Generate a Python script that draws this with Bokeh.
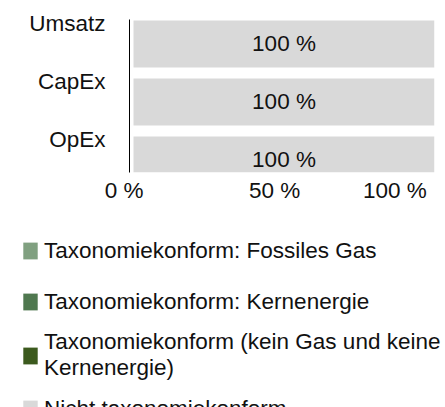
from bokeh.plotting import figure
from bokeh.layouts import column
from bokeh.models import (ColumnDataSource, Range1d, FixedTicker, LinearAxis, Legend)
from bokeh.core.properties import value
from bokeh.embed import file_html
from bokeh.resources import INLINE

# ---- data ----
categories = ["Umsatz", "CapEx", "OpEx"]
gas = [0, 0, 0]
kern = [0, 0, 0]
konform = [0, 0, 0]
nicht = [100, 100, 100]
series_keys = ["gas", "kern", "konform", "nicht"]
series_labels = [
    "Taxonomiekonform: Fossiles Gas",
    "Taxonomiekonform: Kernenergie",
    "Taxonomiekonform (kein Gas und keine\nKernenergie)",
    "Nicht taxonomiekonform",
]
series_colors = ["#80A080", "#4F784F", "#3C5A1E", "#D9D9D9"]
x_ticks = [0, 50, 100]
x_tick_labels = ["0 %", "50 %", "100 %"]

FONT = "Liberation Sans"
FS = "22.5px"
PAD = "\u00a0" * 3
TOP_H = 206

ypos = list(range(len(categories)))
source = ColumnDataSource(dict(y=ypos, gas=gas, kern=kern, konform=konform, nicht=nicht))

p = figure(width=445, height=TOP_H, output_backend="svg", toolbar_location=None,
           x_range=Range1d(-1.33, 100), y_range=Range1d(2.216, -0.422),
           x_axis_location=None, y_axis_location=None,
           min_border_left=129, min_border_right=11, min_border_top=19,
           min_border_bottom=TOP_H - 172)
p.outline_line_color = None
p.xgrid.visible = False
p.ygrid.visible = False
p.frame_align = False

renderers = p.hbar_stack(series_keys, y="y", height=0.81, source=source,
                         fill_color=series_colors, line_color=None)

# value labels on non-zero segments
lab_x, lab_y, lab_t = [], [], []
for i in range(len(categories)):
    left = 0
    for key in series_keys:
        v = source.data[key][i]
        if v > 0:
            lab_x.append(left + v / 2)
            lab_y.append(ypos[i])
            lab_t.append(f"{v:.0f} %")
        left += v
p.text(x=lab_x, y=lab_y, text=lab_t, text_align="center", text_baseline="middle",
       text_font=value(FONT), text_font_size=FS, text_color="#111111")

# x axis (labels only)
xaxis = LinearAxis(ticker=FixedTicker(ticks=x_ticks))
xaxis.major_label_overrides = {t: l + PAD for t, l in zip(x_ticks, x_tick_labels)}
xaxis.axis_line_color = None
xaxis.major_tick_line_color = None
xaxis.minor_tick_line_color = None
xaxis.major_tick_out = 0
xaxis.major_tick_in = 0
xaxis.major_label_standoff = 5
xaxis.major_label_text_font = FONT
xaxis.major_label_text_font_size = FS
xaxis.major_label_text_color = "#111111"
p.add_layout(xaxis, "below")

# y axis (category labels placed near top of each band)
p.extra_y_ranges = {"cat": Range1d(2.216 + 0.353, -0.422 + 0.353)}
yaxis = LinearAxis(y_range_name="cat", ticker=FixedTicker(ticks=ypos))
yaxis.major_label_overrides = {i: c for i, c in zip(ypos, categories)}
yaxis.axis_line_color = "#000000"
yaxis.axis_line_width = 1
yaxis.major_tick_line_color = None
yaxis.minor_tick_line_color = None
yaxis.major_tick_out = 0
yaxis.major_tick_in = 0
yaxis.major_label_standoff = 24
yaxis.major_label_text_font = FONT
yaxis.major_label_text_font_size = FS
yaxis.major_label_text_color = "#111111"
p.add_layout(yaxis, "left")

# ---- legend panel (separate figure, same series; bars kept out of its view) ----
lg = figure(width=445, height=407 - TOP_H, output_backend="svg", toolbar_location=None,
            x_range=Range1d(0, 100), y_range=Range1d(10, 11),
            x_axis_location=None, y_axis_location=None,
            min_border=0)
lg.outline_line_color = None
lg.xgrid.visible = False
lg.ygrid.visible = False
lg.frame_align = False
lg_renderers = lg.hbar_stack(series_keys, y="y", height=0.81, source=source,
                             fill_color=series_colors, line_color=None)

legend = Legend(items=[(lbl, [r]) for lbl, r in zip(series_labels, lg_renderers)],
                location="top_left", orientation="vertical",
                border_line_color=None, background_fill_alpha=0,
                padding=0, margin=21, spacing=4,
                glyph_width=18, glyph_height=21, label_height=47,
                label_standoff=5,
                label_text_font=FONT, label_text_font_size=FS,
                label_text_color="#111111")
lg.add_layout(legend, "center")

layout = column(p, lg, spacing=0)
open("out.html", "w").write(file_html(layout, INLINE))
